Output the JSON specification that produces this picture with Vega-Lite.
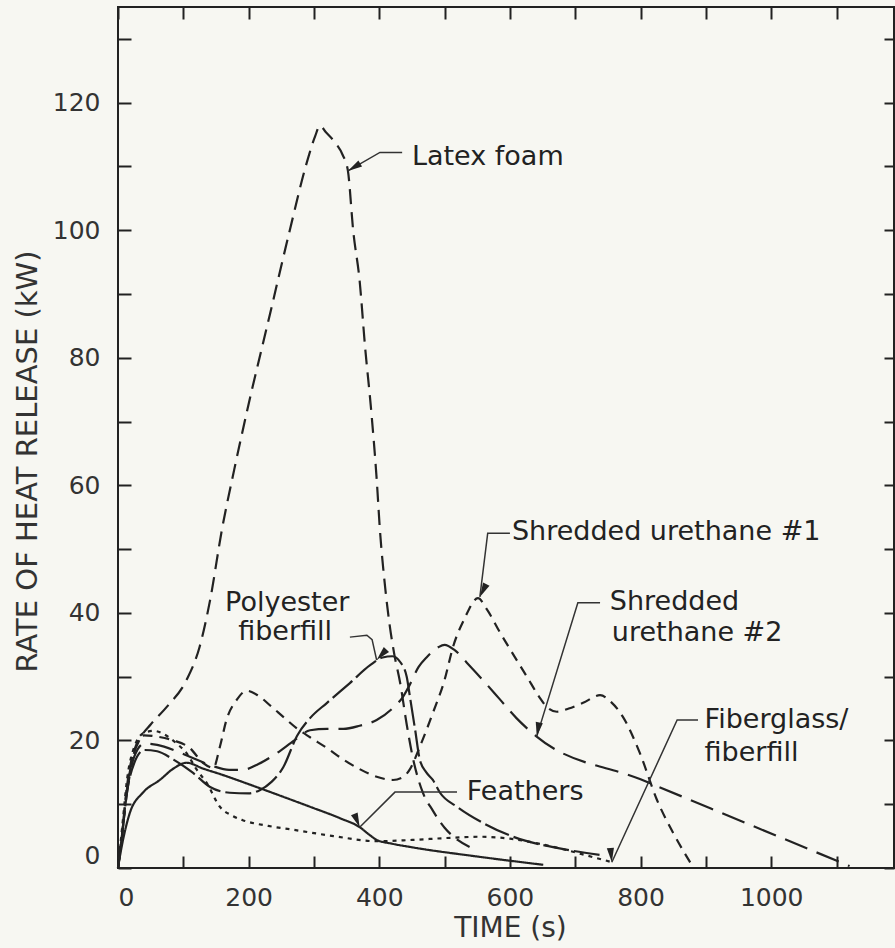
{
  "$schema": "https://vega.github.io/schema/vega-lite/v6.json",
  "width": 776,
  "height": 861,
  "autosize": {"type": "none"},
  "padding": {"left": 118, "top": 7, "right": 1, "bottom": 80},
  "background": "#f7f7f2",
  "config": {
    "view": {"stroke": "#222", "strokeWidth": 2},
    "font": "DejaVu Sans",
    "axis": {"grid": false, "domain": false, "tickColor": "#222", "tickWidth": 2, "labelColor": "#333", "labelFont": "DejaVu Sans", "labelFontSize": 25, "titleFont": "DejaVu Sans", "titleFontWeight": "normal", "titleColor": "#333", "titleFontSize": 28}
  },
  "datasets": {
    "curves": [
      {"series": "Latex foam", "t": 0, "v": 0}, {"series": "Latex foam", "t": 5, "v": 4}, {"series": "Latex foam", "t": 12, "v": 11}, {"series": "Latex foam", "t": 22, "v": 17}, {"series": "Latex foam", "t": 35, "v": 20.5}, {"series": "Latex foam", "t": 50, "v": 22.5}, {"series": "Latex foam", "t": 75, "v": 25.3}, {"series": "Latex foam", "t": 105, "v": 29.5}, {"series": "Latex foam", "t": 125, "v": 34.7}, {"series": "Latex foam", "t": 141, "v": 42}, {"series": "Latex foam", "t": 159, "v": 53}, {"series": "Latex foam", "t": 178, "v": 62.5}, {"series": "Latex foam", "t": 197, "v": 71.4}, {"series": "Latex foam", "t": 233, "v": 87}, {"series": "Latex foam", "t": 263, "v": 100}, {"series": "Latex foam", "t": 289, "v": 110.6}, {"series": "Latex foam", "t": 302, "v": 114.8}, {"series": "Latex foam", "t": 309, "v": 116.4}, {"series": "Latex foam", "t": 318, "v": 115.4}, {"series": "Latex foam", "t": 332, "v": 113.8}, {"series": "Latex foam", "t": 344, "v": 111.8}, {"series": "Latex foam", "t": 352, "v": 109.3}, {"series": "Latex foam", "t": 360, "v": 100}, {"series": "Latex foam", "t": 370, "v": 92}, {"series": "Latex foam", "t": 378, "v": 82}, {"series": "Latex foam", "t": 388, "v": 71.3}, {"series": "Latex foam", "t": 396, "v": 61}, {"series": "Latex foam", "t": 401, "v": 53}, {"series": "Latex foam", "t": 409, "v": 44}, {"series": "Latex foam", "t": 416, "v": 38}, {"series": "Latex foam", "t": 423, "v": 33.5}, {"series": "Latex foam", "t": 432, "v": 29}, {"series": "Latex foam", "t": 442, "v": 22.5}, {"series": "Latex foam", "t": 452, "v": 17}, {"series": "Latex foam", "t": 466, "v": 12}, {"series": "Latex foam", "t": 482, "v": 9}, {"series": "Latex foam", "t": 500, "v": 6.3}, {"series": "Latex foam", "t": 520, "v": 4.4}, {"series": "Latex foam", "t": 540, "v": 3.2},

      {"series": "Polyester fiberfill", "t": 0, "v": 0}, {"series": "Polyester fiberfill", "t": 6, "v": 5}, {"series": "Polyester fiberfill", "t": 14, "v": 12}, {"series": "Polyester fiberfill", "t": 25, "v": 16.5}, {"series": "Polyester fiberfill", "t": 40, "v": 18.5}, {"series": "Polyester fiberfill", "t": 60, "v": 18.3}, {"series": "Polyester fiberfill", "t": 85, "v": 17}, {"series": "Polyester fiberfill", "t": 115, "v": 14.9}, {"series": "Polyester fiberfill", "t": 141, "v": 12.7}, {"series": "Polyester fiberfill", "t": 171, "v": 11.8}, {"series": "Polyester fiberfill", "t": 200, "v": 11.7}, {"series": "Polyester fiberfill", "t": 217, "v": 12.2}, {"series": "Polyester fiberfill", "t": 235, "v": 13.5}, {"series": "Polyester fiberfill", "t": 253, "v": 15.8}, {"series": "Polyester fiberfill", "t": 274, "v": 20.7}, {"series": "Polyester fiberfill", "t": 294, "v": 23.5}, {"series": "Polyester fiberfill", "t": 320, "v": 25.9}, {"series": "Polyester fiberfill", "t": 355, "v": 29}, {"series": "Polyester fiberfill", "t": 386, "v": 31.8}, {"series": "Polyester fiberfill", "t": 405, "v": 33}, {"series": "Polyester fiberfill", "t": 420, "v": 33.2}, {"series": "Polyester fiberfill", "t": 432, "v": 32.3}, {"series": "Polyester fiberfill", "t": 442, "v": 30}, {"series": "Polyester fiberfill", "t": 447, "v": 26.8}, {"series": "Polyester fiberfill", "t": 455, "v": 21.6}, {"series": "Polyester fiberfill", "t": 462, "v": 17}, {"series": "Polyester fiberfill", "t": 472, "v": 15}, {"series": "Polyester fiberfill", "t": 482, "v": 13.8}, {"series": "Polyester fiberfill", "t": 493, "v": 11.8}, {"series": "Polyester fiberfill", "t": 519, "v": 9.6}, {"series": "Polyester fiberfill", "t": 560, "v": 7}, {"series": "Polyester fiberfill", "t": 605, "v": 4.9}, {"series": "Polyester fiberfill", "t": 680, "v": 3}, {"series": "Polyester fiberfill", "t": 742, "v": 2},

      {"series": "Shredded urethane #2", "t": 0, "v": 0}, {"series": "Shredded urethane #2", "t": 6, "v": 5}, {"series": "Shredded urethane #2", "t": 14, "v": 12}, {"series": "Shredded urethane #2", "t": 25, "v": 17.5}, {"series": "Shredded urethane #2", "t": 40, "v": 19.5}, {"series": "Shredded urethane #2", "t": 60, "v": 19.3}, {"series": "Shredded urethane #2", "t": 90, "v": 18.3}, {"series": "Shredded urethane #2", "t": 120, "v": 17}, {"series": "Shredded urethane #2", "t": 145, "v": 16}, {"series": "Shredded urethane #2", "t": 170, "v": 15.4}, {"series": "Shredded urethane #2", "t": 191, "v": 15.4}, {"series": "Shredded urethane #2", "t": 215, "v": 16.3}, {"series": "Shredded urethane #2", "t": 243, "v": 18}, {"series": "Shredded urethane #2", "t": 270, "v": 20}, {"series": "Shredded urethane #2", "t": 294, "v": 21.6}, {"series": "Shredded urethane #2", "t": 320, "v": 21.8}, {"series": "Shredded urethane #2", "t": 345, "v": 21.8}, {"series": "Shredded urethane #2", "t": 370, "v": 22.3}, {"series": "Shredded urethane #2", "t": 396, "v": 23.2}, {"series": "Shredded urethane #2", "t": 420, "v": 25}, {"series": "Shredded urethane #2", "t": 436, "v": 26.8}, {"series": "Shredded urethane #2", "t": 445, "v": 28.4}, {"series": "Shredded urethane #2", "t": 460, "v": 31.5}, {"series": "Shredded urethane #2", "t": 473, "v": 33.1}, {"series": "Shredded urethane #2", "t": 490, "v": 34.6}, {"series": "Shredded urethane #2", "t": 500, "v": 35}, {"series": "Shredded urethane #2", "t": 515, "v": 34.2}, {"series": "Shredded urethane #2", "t": 534, "v": 32.2}, {"series": "Shredded urethane #2", "t": 560, "v": 29.3}, {"series": "Shredded urethane #2", "t": 585, "v": 26.4}, {"series": "Shredded urethane #2", "t": 610, "v": 23.5}, {"series": "Shredded urethane #2", "t": 641, "v": 20.6}, {"series": "Shredded urethane #2", "t": 800, "v": 13.9}, {"series": "Shredded urethane #2", "t": 960, "v": 7.1}, {"series": "Shredded urethane #2", "t": 1120, "v": 0.3},

      {"series": "Shredded urethane #1", "t": 0, "v": 0}, {"series": "Shredded urethane #1", "t": 6, "v": 5}, {"series": "Shredded urethane #1", "t": 14, "v": 13}, {"series": "Shredded urethane #1", "t": 25, "v": 18.5}, {"series": "Shredded urethane #1", "t": 40, "v": 20.8}, {"series": "Shredded urethane #1", "t": 60, "v": 20.6}, {"series": "Shredded urethane #1", "t": 85, "v": 20}, {"series": "Shredded urethane #1", "t": 110, "v": 18.8}, {"series": "Shredded urethane #1", "t": 130, "v": 16.5}, {"series": "Shredded urethane #1", "t": 146, "v": 15.7}, {"series": "Shredded urethane #1", "t": 156, "v": 19}, {"series": "Shredded urethane #1", "t": 166, "v": 23.2}, {"series": "Shredded urethane #1", "t": 182, "v": 26.4}, {"series": "Shredded urethane #1", "t": 197, "v": 27.8}, {"series": "Shredded urethane #1", "t": 215, "v": 27}, {"series": "Shredded urethane #1", "t": 235, "v": 25.3}, {"series": "Shredded urethane #1", "t": 253, "v": 23.7}, {"series": "Shredded urethane #1", "t": 275, "v": 21.8}, {"series": "Shredded urethane #1", "t": 294, "v": 20.5}, {"series": "Shredded urethane #1", "t": 320, "v": 18.8}, {"series": "Shredded urethane #1", "t": 345, "v": 17}, {"series": "Shredded urethane #1", "t": 370, "v": 15.5}, {"series": "Shredded urethane #1", "t": 396, "v": 14.3}, {"series": "Shredded urethane #1", "t": 421, "v": 13.8}, {"series": "Shredded urethane #1", "t": 437, "v": 14.3}, {"series": "Shredded urethane #1", "t": 447, "v": 15.5}, {"series": "Shredded urethane #1", "t": 462, "v": 19}, {"series": "Shredded urethane #1", "t": 482, "v": 24.3}, {"series": "Shredded urethane #1", "t": 500, "v": 29.5}, {"series": "Shredded urethane #1", "t": 513, "v": 34.7}, {"series": "Shredded urethane #1", "t": 530, "v": 39}, {"series": "Shredded urethane #1", "t": 551, "v": 42.3}, {"series": "Shredded urethane #1", "t": 565, "v": 40.5}, {"series": "Shredded urethane #1", "t": 585, "v": 36.9}, {"series": "Shredded urethane #1", "t": 605, "v": 33.5}, {"series": "Shredded urethane #1", "t": 626, "v": 30}, {"series": "Shredded urethane #1", "t": 645, "v": 26.8}, {"series": "Shredded urethane #1", "t": 656, "v": 25.3}, {"series": "Shredded urethane #1", "t": 672, "v": 24.5}, {"series": "Shredded urethane #1", "t": 690, "v": 25}, {"series": "Shredded urethane #1", "t": 712, "v": 25.9}, {"series": "Shredded urethane #1", "t": 738, "v": 27.1}, {"series": "Shredded urethane #1", "t": 755, "v": 26}, {"series": "Shredded urethane #1", "t": 773, "v": 23.7}, {"series": "Shredded urethane #1", "t": 799, "v": 18}, {"series": "Shredded urethane #1", "t": 825, "v": 10.7}, {"series": "Shredded urethane #1", "t": 850, "v": 5.5}, {"series": "Shredded urethane #1", "t": 880, "v": 0.2},

      {"series": "Feathers", "t": 0, "v": 0}, {"series": "Feathers", "t": 5, "v": 3}, {"series": "Feathers", "t": 18, "v": 8.6}, {"series": "Feathers", "t": 38, "v": 11.8}, {"series": "Feathers", "t": 64, "v": 13.8}, {"series": "Feathers", "t": 85, "v": 15.6}, {"series": "Feathers", "t": 105, "v": 16.5}, {"series": "Feathers", "t": 130, "v": 15.6}, {"series": "Feathers", "t": 160, "v": 14.6}, {"series": "Feathers", "t": 212, "v": 12.7}, {"series": "Feathers", "t": 260, "v": 10.9}, {"series": "Feathers", "t": 294, "v": 9.6}, {"series": "Feathers", "t": 340, "v": 7.8}, {"series": "Feathers", "t": 370, "v": 6.4}, {"series": "Feathers", "t": 385, "v": 5.2}, {"series": "Feathers", "t": 396, "v": 4.4}, {"series": "Feathers", "t": 420, "v": 3.8}, {"series": "Feathers", "t": 447, "v": 3.3}, {"series": "Feathers", "t": 550, "v": 1.8}, {"series": "Feathers", "t": 651, "v": 0.5},

      {"series": "Fiberglass/fiberfill", "t": 0, "v": 0}, {"series": "Fiberglass/fiberfill", "t": 6, "v": 6}, {"series": "Fiberglass/fiberfill", "t": 14, "v": 14}, {"series": "Fiberglass/fiberfill", "t": 25, "v": 19}, {"series": "Fiberglass/fiberfill", "t": 40, "v": 21.2}, {"series": "Fiberglass/fiberfill", "t": 55, "v": 21.5}, {"series": "Fiberglass/fiberfill", "t": 70, "v": 21}, {"series": "Fiberglass/fiberfill", "t": 90, "v": 19.5}, {"series": "Fiberglass/fiberfill", "t": 105, "v": 18}, {"series": "Fiberglass/fiberfill", "t": 120, "v": 15.5}, {"series": "Fiberglass/fiberfill", "t": 136, "v": 13.3}, {"series": "Fiberglass/fiberfill", "t": 156, "v": 9.6}, {"series": "Fiberglass/fiberfill", "t": 175, "v": 8.2}, {"series": "Fiberglass/fiberfill", "t": 191, "v": 7.5}, {"series": "Fiberglass/fiberfill", "t": 230, "v": 6.6}, {"series": "Fiberglass/fiberfill", "t": 268, "v": 6}, {"series": "Fiberglass/fiberfill", "t": 330, "v": 5}, {"series": "Fiberglass/fiberfill", "t": 396, "v": 4.2}, {"series": "Fiberglass/fiberfill", "t": 450, "v": 4.4}, {"series": "Fiberglass/fiberfill", "t": 503, "v": 4.7}, {"series": "Fiberglass/fiberfill", "t": 554, "v": 4.9}, {"series": "Fiberglass/fiberfill", "t": 600, "v": 4.6}, {"series": "Fiberglass/fiberfill", "t": 650, "v": 3.7}, {"series": "Fiberglass/fiberfill", "t": 687, "v": 2.8}, {"series": "Fiberglass/fiberfill", "t": 720, "v": 1.9}, {"series": "Fiberglass/fiberfill", "t": 753, "v": 1}
    ],
    "leaders": [
      {"label": "Latex foam", "ord": 1, "t": 435, "v": 112.2}, {"label": "Latex foam", "ord": 2, "t": 401, "v": 112.2}, {"label": "Latex foam", "ord": 3, "t": 352, "v": 109.3},
      {"label": "Polyester fiberfill", "ord": 1, "t": 355, "v": 36.2}, {"label": "Polyester fiberfill", "ord": 2, "t": 381, "v": 36.5}, {"label": "Polyester fiberfill", "ord": 3, "t": 389, "v": 35.8}, {"label": "Polyester fiberfill", "ord": 4, "t": 396, "v": 32.6},
      {"label": "Shredded urethane #1", "ord": 1, "t": 600, "v": 52.5}, {"label": "Shredded urethane #1", "ord": 2, "t": 566, "v": 52.5}, {"label": "Shredded urethane #1", "ord": 3, "t": 554, "v": 42.5},
      {"label": "Shredded urethane #2", "ord": 1, "t": 738, "v": 41.6}, {"label": "Shredded urethane #2", "ord": 2, "t": 704, "v": 41.6}, {"label": "Shredded urethane #2", "ord": 3, "t": 641, "v": 20.6},
      {"label": "Fiberglass/fiberfill", "ord": 1, "t": 888, "v": 23.2}, {"label": "Fiberglass/fiberfill", "ord": 2, "t": 856, "v": 23.2}, {"label": "Fiberglass/fiberfill", "ord": 3, "t": 756, "v": 0.9},
      {"label": "Feathers", "ord": 1, "t": 519, "v": 11.9}, {"label": "Feathers", "ord": 2, "t": 424, "v": 11.9}, {"label": "Feathers", "ord": 3, "t": 370, "v": 6.4}
    ],
    "arrows": [
      {"label": "Latex foam", "t": 352, "v": 109.3},
      {"label": "Polyester fiberfill", "t": 396, "v": 32.6},
      {"label": "Shredded urethane #1", "t": 554, "v": 42.5},
      {"label": "Shredded urethane #2", "t": 641, "v": 20.6},
      {"label": "Fiberglass/fiberfill", "t": 756, "v": 0.9},
      {"label": "Feathers", "t": 370, "v": 6.4}
    ],
    "texts": [
      {"text": "Latex foam", "t": 450, "v": 111.5},
      {"text": "Polyester", "t": 164, "v": 41.6},
      {"text": "fiberfill", "t": 184, "v": 37},
      {"text": "Shredded urethane #1", "t": 603, "v": 52.7},
      {"text": "Shredded", "t": 753, "v": 41.7},
      {"text": "urethane #2", "t": 756, "v": 36.9},
      {"text": "Fiberglass/", "t": 898, "v": 23.2},
      {"text": "fiberfill", "t": 898, "v": 18},
      {"text": "Feathers", "t": 534, "v": 11.9}
    ]
  },
  "layer": [
    {
      "data": {"name": "curves"},
      "mark": {"type": "line", "interpolate": "monotone", "color": "#222", "strokeWidth": 2.2},
      "encoding": {
        "x": {"field": "t", "type": "quantitative", "scale": {"domain": [0, 1188], "nice": false, "zero": false},
          "axis": {"orient": "bottom", "offset": -12, "values": [0, 100, 200, 300, 400, 500, 600, 700, 800, 900, 1000, 1100], "format": "d", "labelExpr": "datum.value % 200 == 0 && datum.value <= 1000 ? datum.label : ''", "tickSize": 12, "labelPadding": 17, "labelFlush": true, "title": "TIME (s)", "titleY": 72, "titleX": 392, "titleBaseline": "middle"}},
        "y": {"field": "v", "type": "quantitative", "scale": {"domain": [0, 135], "nice": false, "zero": false},
          "axis": {"orient": "left", "offset": -13, "values": [0, 10, 20, 30, 40, 50, 60, 70, 80, 90, 100, 110, 120, 130], "labelExpr": "datum.value % 20 == 0 && datum.value <= 120 ? datum.label : ''", "tickSize": 13, "labelPadding": 18, "labelFlush": true, "title": "RATE OF HEAT RELEASE (kW)", "titleFontSize": 29, "titleX": -104, "titleY": 454, "titleBaseline": "middle", "titleAngle": -90, "titleAlign": "center"}},
        "detail": {"field": "series", "type": "nominal"},
        "strokeDash": {"field": "series", "type": "nominal", "legend": null,
          "scale": {"domain": ["Latex foam", "Shredded urethane #1", "Shredded urethane #2", "Polyester fiberfill", "Feathers", "Fiberglass/fiberfill"],
            "range": [[15, 8], [10, 7], [24, 10], [26, 5], [1, 0], [4, 5]]}}
      }
    },
    {
      "data": {"name": "leaders"},
      "mark": {"type": "line", "color": "#333", "strokeWidth": 1.5},
      "encoding": {
        "x": {"field": "t", "type": "quantitative", "axis": {"orient": "top", "offset": -12, "values": [0, 100, 200, 300, 400, 500, 600, 700, 800, 900, 1000, 1100], "labels": false, "tickSize": 12, "title": null}},
        "y": {"field": "v", "type": "quantitative", "axis": {"orient": "right", "offset": -10, "values": [0, 10, 20, 30, 40, 50, 60, 70, 80, 90, 100, 110, 120, 130], "labels": false, "tickSize": 10, "title": null}},
        "detail": {"field": "label", "type": "nominal"},
        "order": {"field": "ord", "type": "quantitative"}
      }
    },
    {
      "data": {"name": "arrows"},
      "mark": {"type": "point", "shape": "M0,0L-0.35,1.4L0.35,1.4Z", "filled": true, "color": "#222", "size": 420, "opacity": 1},
      "encoding": {
        "x": {"field": "t", "type": "quantitative", "axis": null},
        "y": {"field": "v", "type": "quantitative", "axis": null},
        "angle": {"field": "label", "type": "nominal", "legend": null,
          "scale": {"domain": ["Latex foam", "Polyester fiberfill", "Shredded urethane #1", "Shredded urethane #2", "Fiberglass/fiberfill", "Feathers"],
            "range": [239, 158, 187, 197, 205, 225]}}
      }
    },
    {
      "data": {"name": "texts"},
      "mark": {"type": "text", "align": "left", "baseline": "middle", "font": "DejaVu Sans", "fontSize": 27, "color": "#222"},
      "encoding": {
        "x": {"field": "t", "type": "quantitative", "axis": null},
        "y": {"field": "v", "type": "quantitative", "axis": null},
        "text": {"field": "text", "type": "nominal"}
      }
    }
  ],
  "resolve": {"axis": {"x": "independent", "y": "independent"}}
}
